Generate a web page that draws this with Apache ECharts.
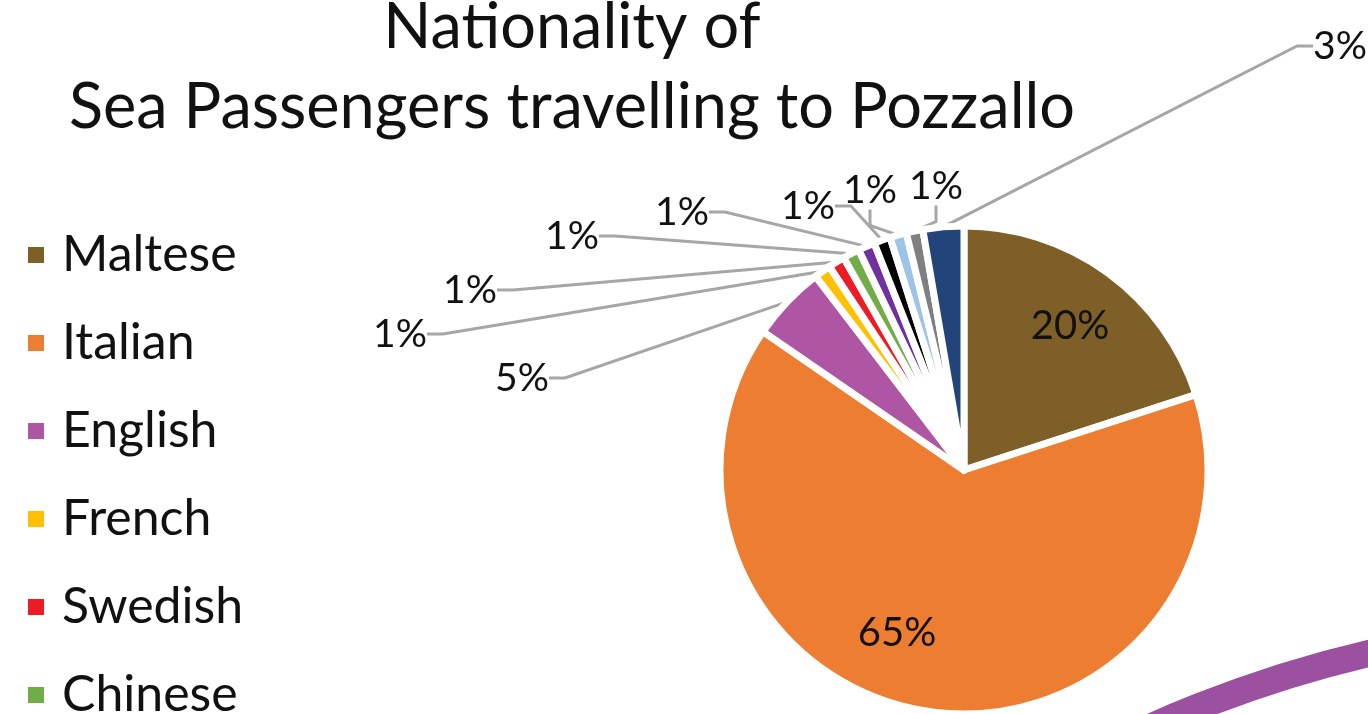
<!DOCTYPE html>
<html>
<head>
<meta charset="utf-8">
<title>Nationality of Sea Passengers travelling to Pozzallo</title>
<script src="https://cdn.jsdelivr.net/npm/echarts@6/dist/echarts.min.js"></script>
<style>
html, body { margin: 0; padding: 0; background: #fff; }
#chart { width: 1368px; height: 714px; }
</style>
</head>
<body>
<div id="chart"></div>
<script>
// data (share of passengers, %)
var nationalities = ['Maltese', 'Italian', 'English', 'French', 'Swedish', 'Chinese',
                     'German', 'Polish', 'Dutch', 'Spanish', 'Other'];
var shares = [20, 64.6, 5, 1.1, 1.1, 1.1, 1.1, 1.1, 1.1, 1.1, 2.7];

var sliceColors = ['#7e5f27', '#ed7d31', '#ae56a3', '#ffc000', '#ed1c24', '#70ad47',
                   '#7030a0', '#000000', '#9dc3e6', '#7f7f7f', '#22447a'];

// where each percentage label sits (text centre, px)
var labelSpots = [[1070, 326], [897, 633], [522, 378], [400, 334], [470, 290],
                  [572, 236], [682, 212], [808, 206], [870, 190], [936, 186], [1340, 46]];

var chart = echarts.init(document.getElementById('chart'));

var pieData = nationalities.map(function (name, i) {
    var inside = i < 2;
    return {
        name: name,
        value: shares[i],
        itemStyle: { color: sliceColors[i] },
        label: inside ? { position: 'inside', fontSize: 40 } : { position: 'outside' },
        labelLine: { show: !inside }
    };
});

var option = {
    backgroundColor: '#fff',
    animation: false,
    title: {
        text: 'Nationality of\nSea Passengers travelling to Pozzallo',
        left: 567,
        top: -17,
        textAlign: 'center',
        textStyle: {
            fontFamily: 'Lato',
            fontWeight: 'normal',
            fontSize: 63,
            lineHeight: 80,
            color: '#111'
        }
    },
    legend: {
        orient: 'vertical',
        left: 21,
        top: 225,
        height: 1500,
        itemWidth: 18,
        itemHeight: 18,
        itemGap: 38,
        icon: 'rect',
        data: nationalities,
        textStyle: {
            fontFamily: 'Lato',
            fontSize: 50,
            lineHeight: 50,
            color: '#111',
            padding: [0, 0, 0, 12]
        }
    },
    graphic: [
        {
            type: 'circle',
            z: -10,
            silent: true,
            shape: { cx: 1643, cy: 1828, r: 1206 },
            style: { fill: 'none', stroke: '#9b51a0', lineWidth: 27 }
        }
    ],
    series: [
        {
            type: 'pie',
            center: [964, 470],
            radius: 244,
            startAngle: 90,
            clockwise: true,
            avoidLabelOverlap: false,
            itemStyle: { borderColor: '#fff', borderWidth: 7 },
            label: {
                fontFamily: 'Lato',
                fontSize: 39,
                color: '#111',
                formatter: function (p) { return Math.round(p.percent) + '%'; }
            },
            labelLine: {
                length: 10,
                length2: 16,
                lineStyle: { color: '#a6a6a6', width: 3 }
            },
            labelLayout: function (params) {
                var p = labelSpots[params.dataIndex];
                return { x: p[0], y: p[1], align: 'center', verticalAlign: 'middle' };
            },
            data: pieData
        }
    ]
};

chart.setOption(option);
</script>
</body>
</html>
